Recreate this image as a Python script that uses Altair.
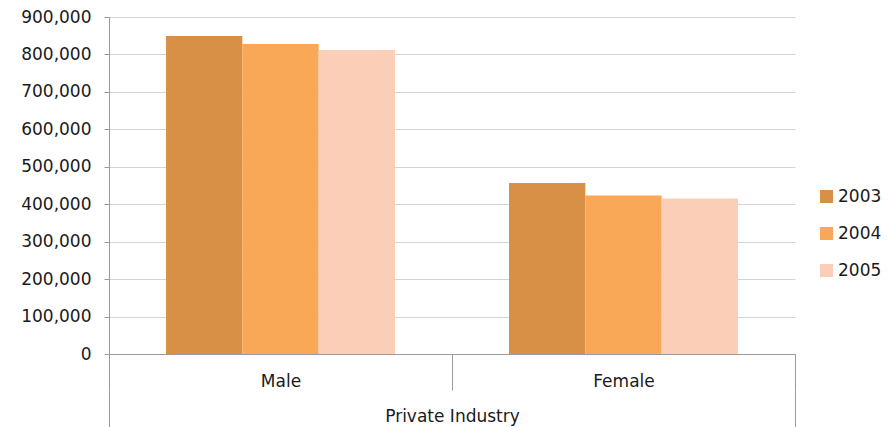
import altair as alt
import pandas as pd

genders = ["Male", "Female"]
years = ["2003", "2004", "2005"]
male_values = [849000, 828000, 812000]
female_values = [457000, 423000, 415000]
industry = ["Private Industry"]
y_ticks = [0, 100000, 200000, 300000, 400000, 500000, 600000, 700000, 800000, 900000]
colors = ["#D89047", "#F9A858", "#FBCEB7"]

rows = []
for g, vals in zip(genders, [male_values, female_values]):
    for yr, v in zip(years, vals):
        rows.append({"gender": g, "year": yr, "value": v})
df = pd.DataFrame(rows)
ind_df = pd.DataFrame({"industry": industry})

FONT = "DejaVu Sans"
TXT = "#1a1a1a"
AX = "#9a9a9a"
FS = 17

bars = alt.Chart(df).mark_bar(strokeWidth=0).encode(
    x=alt.X(
        "gender:N", sort=genders, title=None,
        scale=alt.Scale(paddingInner=0, paddingOuter=0),
        axis=alt.Axis(orient="bottom", tickBand="extent", tickSize=36, labelPadding=-17,
                      labelAngle=0, domain=True, domainColor=AX, tickColor=AX,
                      labelFont=FONT, labelFontSize=FS, labelColor=TXT, grid=False),
    ),
    xOffset=alt.XOffset("year:N", sort=years,
                        scale=alt.Scale(paddingInner=0, paddingOuter=0.747)),
    y=alt.Y(
        "value:Q", title=None,
        scale=alt.Scale(domain=[0, 900000], nice=False),
        axis=alt.Axis(values=y_ticks, format=",d", grid=True, gridColor="#D4D4D4",
                      tickSize=5, tickColor=AX, domain=True, domainColor=AX,
                      labelPadding=13, labelFont=FONT, labelFontSize=FS, labelColor=TXT),
    ),
    color=alt.Color(
        "year:N", sort=years,
        scale=alt.Scale(domain=years, range=colors),
        legend=alt.Legend(title=None, orient="none", legendX=709, legendY=171,
                          symbolType="square", symbolSize=169, symbolStrokeWidth=0,
                          labelFont=FONT, labelFontSize=FS, labelColor=TXT,
                          rowPadding=19, labelOffset=3),
    ),
)

ind = alt.Chart(ind_df).mark_point(opacity=0).encode(
    x=alt.X(
        "industry:N", title=None,
        scale=alt.Scale(type="band", paddingInner=0, paddingOuter=0),
        axis=alt.Axis(orient="bottom", offset=36, tickBand="extent", tickSize=37,
                      labelPadding=-19, labelAngle=0, domain=False, tickColor=AX,
                      labelFont=FONT, labelFontSize=FS, labelColor=TXT, grid=False),
    ),
)

chart = alt.layer(bars, ind).resolve_scale(x="independent").properties(
    width=686, height=337,
    autosize=alt.AutoSizeParams(type="none"),
    padding={"left": 101, "top": 9, "right": 87, "bottom": 73},
).configure_view(stroke=None)

chart.save("out.html", embed_options={"renderer": "svg", "actions": False})
